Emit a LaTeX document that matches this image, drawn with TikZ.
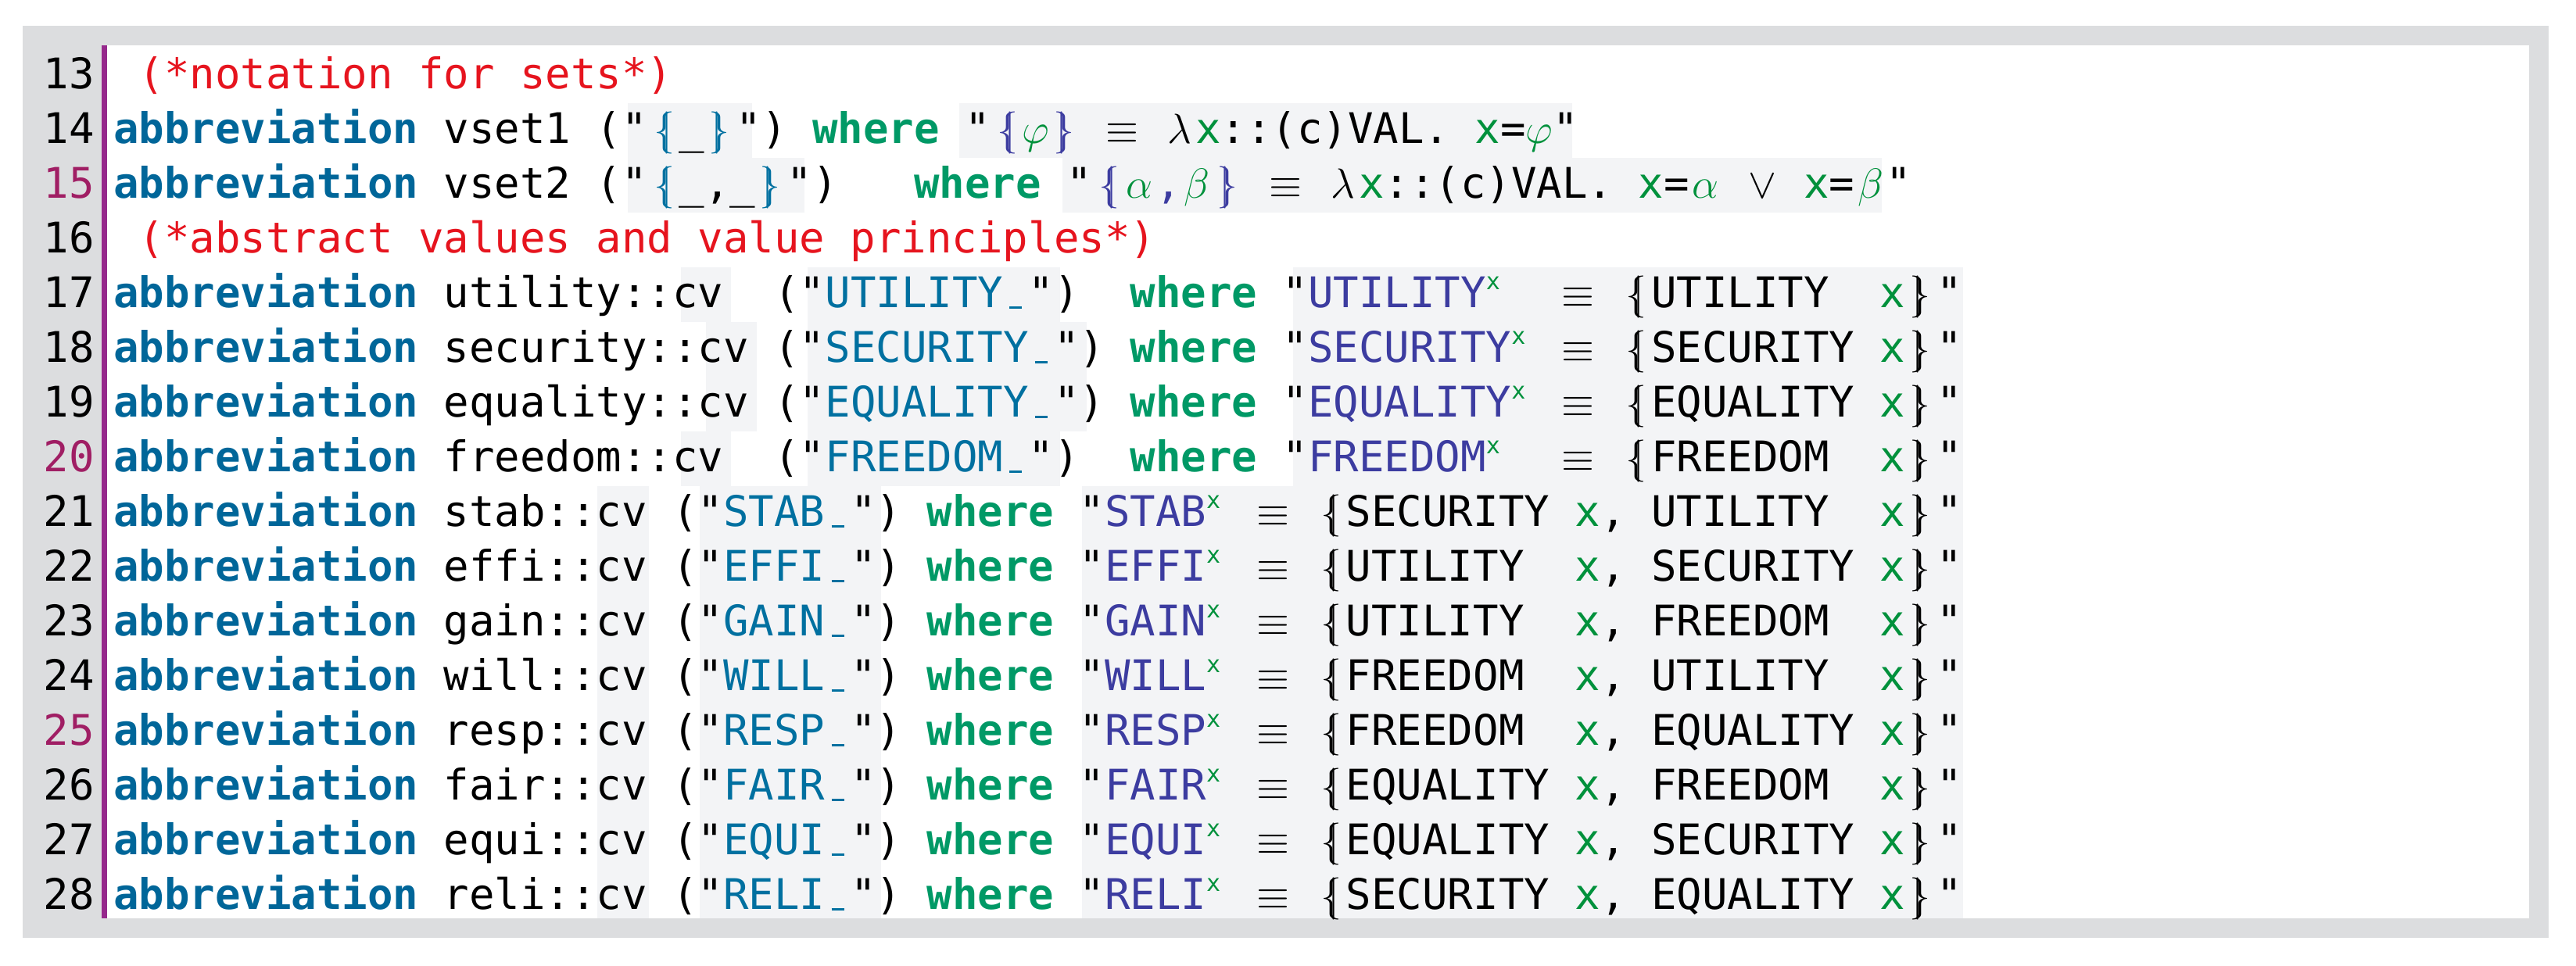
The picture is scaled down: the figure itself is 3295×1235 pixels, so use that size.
\RequirePackage{fix-cm}
\documentclass[tikz,border=0pt]{standalone}
\usepackage{fontspec}
\setmonofont{DejaVu Sans Mono}
\definecolor{frame}{RGB}{220,221,223}
\definecolor{hilite}{RGB}{243,244,246}
\definecolor{kwblue}{RGB}{0,102,153}
\definecolor{wgreen}{RGB}{0,153,102}
\definecolor{cmred}{RGB}{230,20,30}
\definecolor{strblue}{RGB}{0,112,160}
\definecolor{defblue}{RGB}{60,60,160}
\definecolor{vgreen}{RGB}{0,145,60}
\definecolor{lnmag}{RGB}{160,30,100}
\definecolor{barpur}{RGB}{150,40,140}
% token macros
\newcommand\kw{\textcolor{kwblue}{\bfseries abbreviation}}
\newcommand\wh{\textcolor{wgreen}{\bfseries where}}
\newcommand\cm[1]{\textcolor{cmred}{#1}}
\newcommand\st[1]{\textcolor{strblue}{#1}}
\newcommand\df[1]{\textcolor{defblue}{#1}}
\newcommand\vr[1]{\textcolor{vgreen}{#1}}
\newcommand\sy[1]{\makebox[0.7525em][c]{#1}}
\newcommand\lbb{\sy{$\lbrace\mkern-6mu\vert$}}
\newcommand\rbb{\sy{$\vert\mkern-6mu\rbrace$}}
\newcommand\eqv{\sy{$\equiv$}}
\newcommand\lam{\sy{$\lambda$}}
\newcommand\ph{\makebox[0.602em][c]{\rule[-0.04em]{0.3em}{0.05em}}}
\newcommand\sx{\vr{\makebox[0.602em][l]{\raisebox{0.42em}{\fontsize{30}{30}\selectfont x}}}}
\newcommand\abb[4]{\kw{} #1::cv~("\st{#2\ph}")~\wh{} "\df{#2}\sx{} \eqv{} \lbb#3~\vr{x},~#4~\vr{x}\rbb"}
\begin{document}
\begin{tikzpicture}[x=1pt,y=-1pt,
  code/.style={anchor=base west,inner sep=0pt,font=\fontsize{54}{70}\selectfont\ttfamily},
  lnum/.style={anchor=base east,inner sep=0pt,font=\fontsize{54}{70}\selectfont\ttfamily}]
\useasboundingbox (0,0) rectangle (3295,1235);
% frame and page
\fill[frame] (29,33) rectangle (3260,1200);
\fill[white] (136,58) rectangle (3235,1175);
% highlighted spans: row, from, to
\foreach \r/\a/\b in {14/803/962,14/1227/2011,15/803/1029,15/1359/2407,
  17/871/935,17/1033/1356,17/1654/2511,18/903/968,18/1033/1390,18/1654/2511,
  19/903/968,19/1033/1390,19/1654/2511,20/871/935,20/1033/1356,20/1654/2511,
  21/764/830,21/895/1127,21/1384/2511,22/764/830,22/895/1127,22/1384/2511,
  23/764/830,23/895/1127,23/1384/2511,24/764/830,24/895/1127,24/1384/2511,
  25/764/830,25/895/1127,25/1384/2511,26/764/830,26/895/1127,26/1384/2511,
  27/764/830,27/895/1127,27/1384/2511,28/764/830,28/895/1127,28/1384/2511}
  \fill[hilite] (\a,{113+70*(\r-13)-51}) rectangle (\b,{min(113+70*(\r-13)+19,1175)});
\fill[barpur] (130,58) rectangle (137,1175);
% line numbers
\foreach \r in {13,...,28}{
  \pgfmathtruncatemacro\m{mod(\r,5)}
  \ifnum\m=0 \node[lnum,text=lnmag] (n\r) at (121,{113+70*(\r-13)}) {\r};
  \else \node[lnum] (n\r) at (121,{113+70*(\r-13)}) {\r}; \fi}
% code lines
\node[code] (l13) at (145,113) {~\cm{(*notation for sets*)}};
\node[code] (l14) at (145,183) {\kw{} vset1 ("\st{\lbb}\_\st{\rbb}") \wh{} "\df{\lbb}\vr{$\varphi$}\df{\rbb} \eqv{} \lam\vr{x}::(c)VAL. \vr{x}=\vr{$\varphi$}"};
\node[code] (l15) at (145,253) {\kw{} vset2 ("\st{\lbb}\_,\_\st{\rbb}")~~~\wh{} "\df{\lbb}\vr{\sy{$\alpha$}}\df{,}\vr{\sy{$\beta$}}\df{\rbb} \eqv{} \lam\vr{x}::(c)VAL. \vr{x}=\vr{\sy{$\alpha$}} \sy{$\vee$} \vr{x}=\vr{\sy{$\beta$}}"};
\node[code] (l16) at (145,323) {~\cm{(*abstract values and value principles*)}};
\node[code] (l17) at (145,393) {\kw{} utility::cv~~("\st{UTILITY\ph}")~~\wh{} "\df{UTILITY}\sx{}~~\eqv{} \lbb{}UTILITY~~\vr{x}\rbb"};
\node[code] (l18) at (145,463) {\kw{} security::cv~("\st{SECURITY\ph}")~\wh{} "\df{SECURITY}\sx{} \eqv{} \lbb{}SECURITY~\vr{x}\rbb"};
\node[code] (l19) at (145,533) {\kw{} equality::cv~("\st{EQUALITY\ph}")~\wh{} "\df{EQUALITY}\sx{} \eqv{} \lbb{}EQUALITY~\vr{x}\rbb"};
\node[code] (l20) at (145,603) {\kw{} freedom::cv~~("\st{FREEDOM\ph}")~~\wh{} "\df{FREEDOM}\sx{}~~\eqv{} \lbb{}FREEDOM~~\vr{x}\rbb"};
\node[code] (l21) at (145,673) {\abb{stab}{STAB}{SECURITY}{UTILITY~}};
\node[code] (l22) at (145,743) {\abb{effi}{EFFI}{UTILITY~}{SECURITY}};
\node[code] (l23) at (145,813) {\abb{gain}{GAIN}{UTILITY~}{FREEDOM~}};
\node[code] (l24) at (145,883) {\abb{will}{WILL}{FREEDOM~}{UTILITY~}};
\node[code] (l25) at (145,953) {\abb{resp}{RESP}{FREEDOM~}{EQUALITY}};
\node[code] (l26) at (145,1023) {\abb{fair}{FAIR}{EQUALITY}{FREEDOM~}};
\node[code] (l27) at (145,1093) {\abb{equi}{EQUI}{EQUALITY}{SECURITY}};
\node[code] (l28) at (145,1163) {\abb{reli}{RELI}{SECURITY}{EQUALITY}};
\end{tikzpicture}
\end{document}
